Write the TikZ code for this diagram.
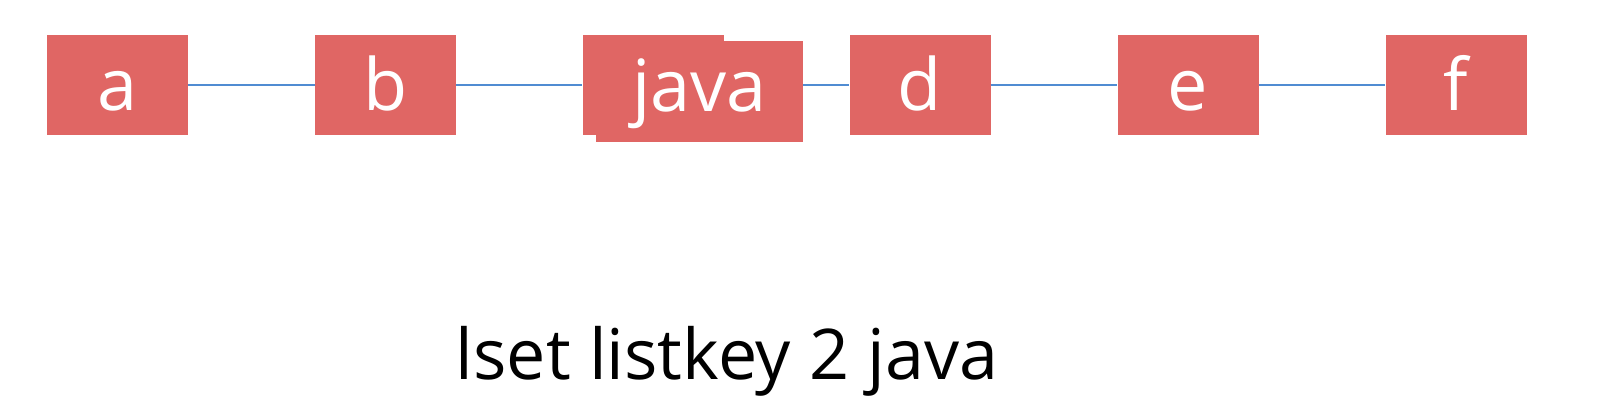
\documentclass[tikz,border=0pt]{standalone}
\usepackage{fontspec}
\setmainfont{Open Sans}
\definecolor{boxred}{RGB}{224,102,100}
\definecolor{linkblue}{RGB}{80,140,210}
\newcommand{\celltext}[2]{\raisebox{-#1pt}[0pt][0pt]{#2}}
\begin{document}
\begin{tikzpicture}[x=1pt,y=-1pt,
  cell/.style={fill=boxred,draw=none,minimum width=141pt,minimum height=100pt,inner sep=0pt,text=white,font=\fontsize{72}{72}\selectfont},
  link/.style={draw=linkblue,line width=2pt}]
\useasboundingbox (0,0) rectangle (1609,418);
\node[cell] (a) at (117.5,85) {\celltext{25}{a}};
\node[cell] (b) at (385.5,85) {\celltext{25}{b}};
\node[cell] (c) at (653,85) {};
\node[cell] (d) at (920,85) {\celltext{25}{d}};
\node[cell] (e) at (1188,85) {\celltext{25}{e}};
\node[cell] (f) at (1456,85) {\celltext{25}{f}};
\node[cell,minimum width=207pt,minimum height=101pt] (j) at (699.5,91) {\celltext{20}{java}};
\draw[link] (a.east) -- (b.west);
\draw[link] (b.east) -- (c.west);
\draw[link] (j.east |- d.west) -- (d.west);
\draw[link] (d.east) -- (e.west);
\draw[link] (e.east) -- (f.west);
\node[font=\fontsize{70}{70}\selectfont,anchor=base] (cmd) at (727,379) {lset listkey 2 java};
\end{tikzpicture}
\end{document}
